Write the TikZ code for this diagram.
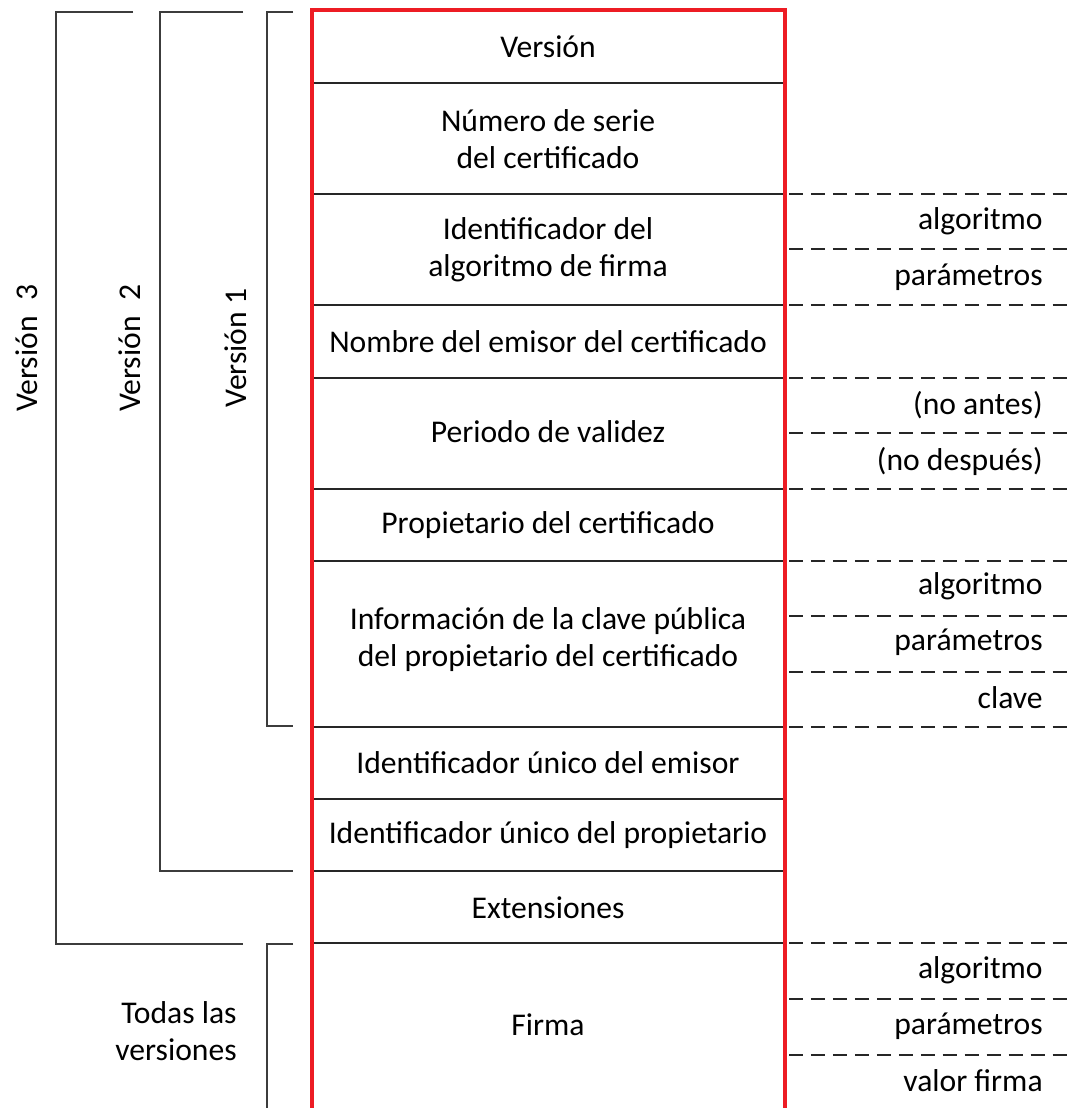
\documentclass[tikz,border=0pt]{standalone}
\usepackage{fontspec}
\setmainfont{Carlito}
\definecolor{certred}{RGB}{237,28,36}
\definecolor{brackgray}{RGB}{60,60,60}
\begin{document}
\begin{tikzpicture}[x=0.02cm,y=-0.02cm,
    field/.style={align=center,font=\fontsize{18}{21}\selectfont,inner sep=0pt},
    subfield/.style={anchor=east,font=\fontsize{18}{21}\selectfont,inner sep=0pt},
    vlabel/.style={rotate=90,font=\fontsize{18}{21}\selectfont,inner sep=0pt},
    cell/.style={line width=1.1pt,black!85},
    subline/.style={line width=1.1pt,black!85,dash pattern=on 8pt off 4.5pt},
    brack/.style={line width=0.8pt,brackgray}]
  \useasboundingbox (0,0) rectangle (1072,1108);
  % separators between the fields
  \foreach \yy in {83,194,305,378,489,561,727,799,871,943}
    \draw[cell] (312,\yy) -- (785,\yy);
  % dashed lines of the subfields
  \foreach \yy in {194,249,305,378,433,489,561,616,672,727,943,999,1055}
    \draw[subline] (789,\yy) -- (1072,\yy);
  % certificate frame
  \draw[certred,line width=2.6pt] (312,1112) -- (312,10) -- (785,10) -- (785,1112);
  % fields
  \node[field] (ver)    at (548,47)  {Versión};
  \node[field] (serie)  at (548,139) {Número de serie\\del certificado};
  \node[field] (algid)  at (548,250) {Identificador del\\algoritmo de firma};
  \node[field] (emisor) at (548,342) {Nombre del emisor del certificado};
  \node[field] (valid)  at (548,432) {Periodo de validez};
  \node[field] (prop)   at (548,525) {Propietario del certificado};
  \node[field] (clave)  at (548,640) {Información de la clave pública\\del propietario del certificado};
  \node[field] (uemis)  at (548,763) {Identificador único del emisor};
  \node[field] (uprop)  at (548,835) {Identificador único del propietario};
  \node[field] (ext)    at (548,908) {Extensiones};
  \node[field] (firma)  at (548,1025) {Firma};
  % subfields
  \node[subfield] (alg1)  at (1043,221)  {algoritmo};
  \node[subfield] (par1)  at (1043,277)  {parámetros};
  \node[subfield] (antes) at (1043,405)  {(no antes)};
  \node[subfield] (desp)  at (1043,461)  {(no después)};
  \node[subfield] (alg2)  at (1043,586)  {algoritmo};
  \node[subfield] (par2)  at (1043,642)  {parámetros};
  \node[subfield] (clv)   at (1043,698)  {clave};
  \node[subfield] (alg3)  at (1043,970)  {algoritmo};
  \node[subfield] (par3)  at (1043,1026) {parámetros};
  \node[subfield] (valf)  at (1043,1081) {valor firma};
  % version brackets
  \draw[brack] (133,12) -- (56,12) -- (56,944) -- (243,944);
  \draw[brack] (243,12) -- (160,12) -- (160,871) -- (293,871);
  \draw[brack] (293,12) -- (267,12) -- (267,726) -- (293,726);
  \draw[brack] (293,944) -- (267,944) -- (267,1112);
  \node[vlabel] (v3) at (27,348)  {Versión\hspace{0.5em}3};
  \node[vlabel] (v2) at (130,348) {Versión\hspace{0.5em}2};
  \node[vlabel] (v1) at (236,348) {Versión 1};
  \node[align=right,anchor=east,font=\fontsize{18}{21}\selectfont,inner sep=0pt] (todas) at (237,1031) {Todas las\\versiones};
\end{tikzpicture}
\end{document}
